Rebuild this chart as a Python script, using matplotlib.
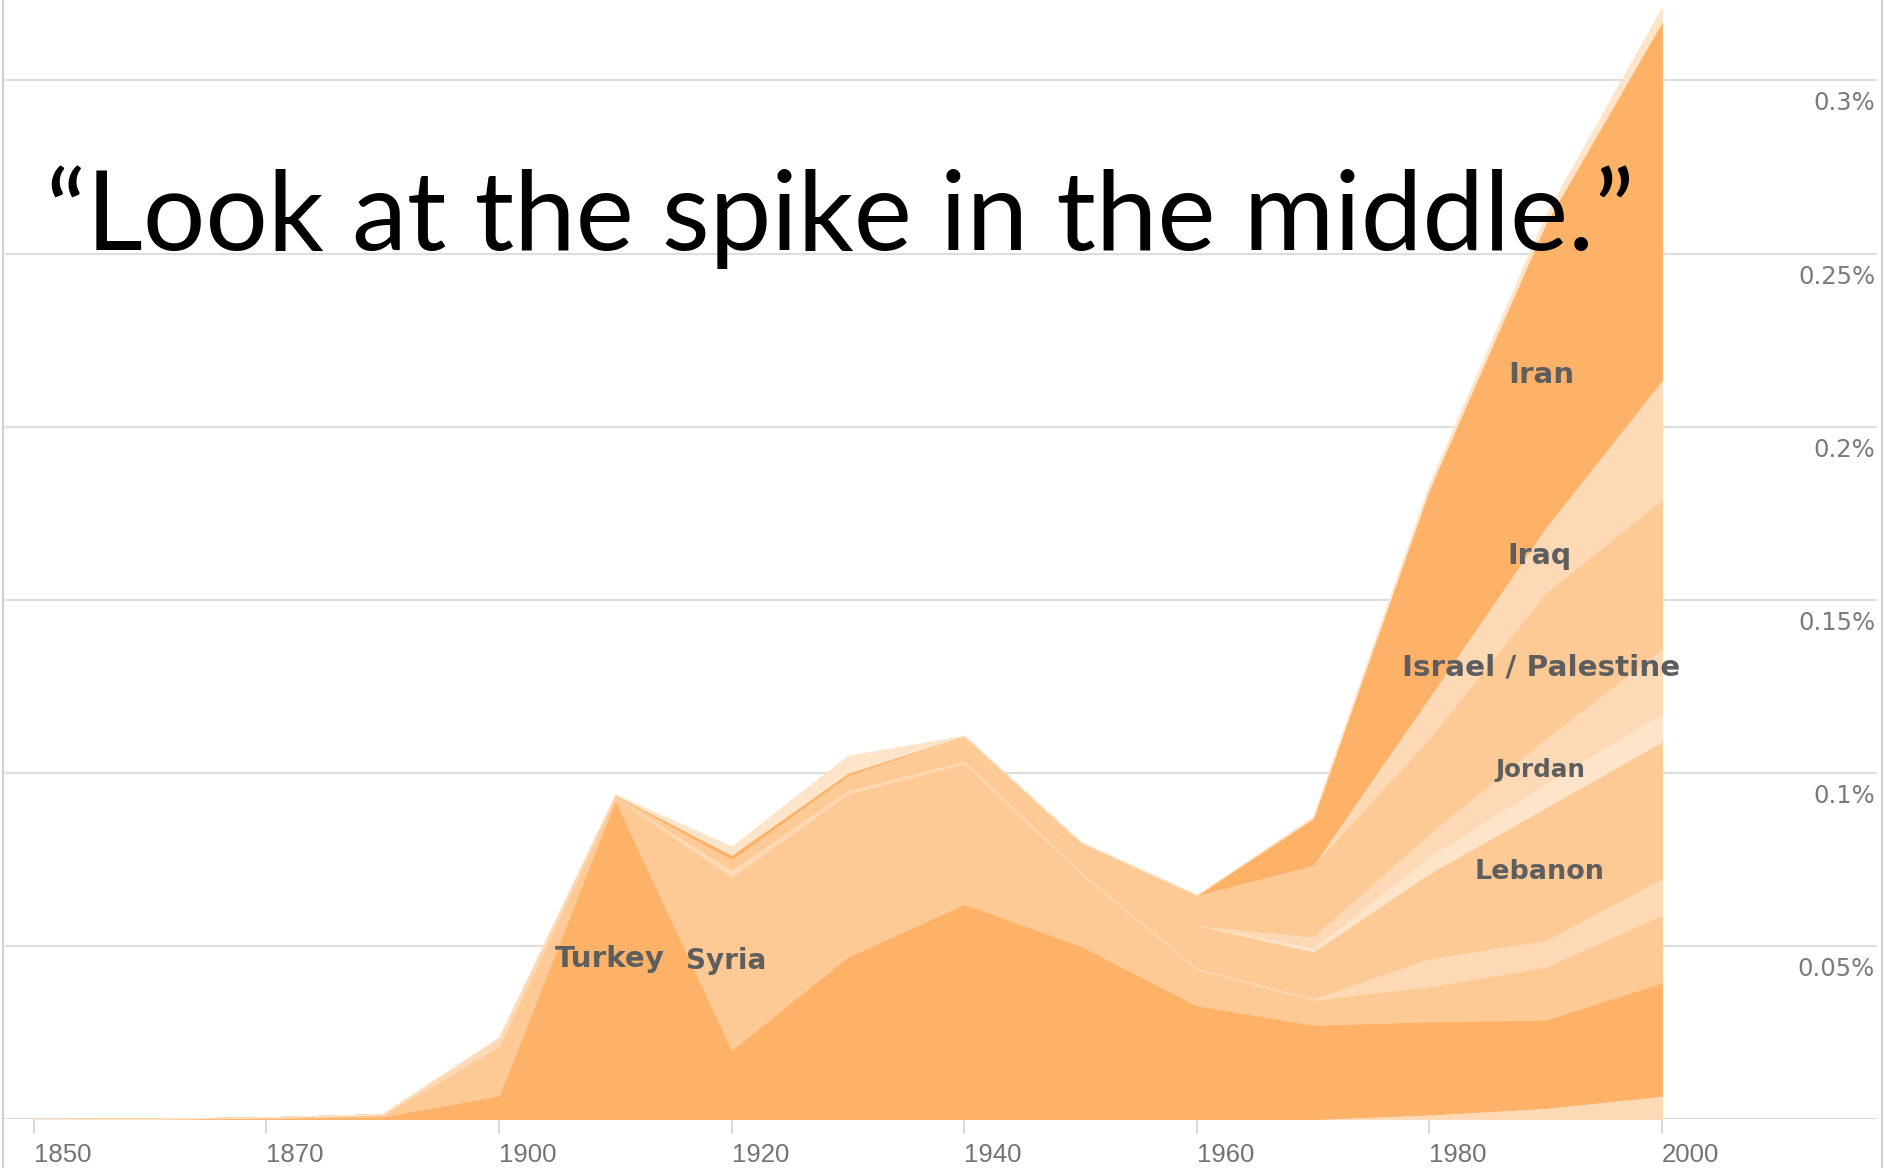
import numpy as np
import matplotlib
matplotlib.use("Agg")
import matplotlib.pyplot as plt
from matplotlib.lines import Line2D
import matplotlib.transforms as mtransforms

# ---------------- data (values in percent) ----------------
years = [1860, 1870, 1880, 1890, 1900, 1910, 1920, 1930, 1940, 1950, 1960, 1970, 1980, 1990, 2000]

other_low = [0, 0, 0, 0, 0, 0, 0, 0, 0, 0, 0, 0, 0.0013, 0.0032, 0.0067]
turkey    = [0, 0.0001, 0.0003, 0.0007, 0.0068, 0.0920, 0.0200, 0.0469, 0.0621, 0.0500, 0.0328, 0.0272, 0.0269, 0.0255, 0.0327]
syria     = [0, 0, 0.0001, 0.0005, 0.0142, 0.0008, 0.0500, 0.0471, 0.0407, 0.0210, 0.0104, 0.0072, 0.0101, 0.0153, 0.0196]
other_mid = [0, 0, 0.0001, 0.0002, 0.0024, 0.0003, 0.0020, 0.0010, 0.0007, 0.0006, 0.0005, 0.0005, 0.0081, 0.0077, 0.0105]
lebanon   = [0, 0, 0, 0, 0, 0.0002, 0.0030, 0.0043, 0.0065, 0.0034, 0.0123, 0.0135, 0.0246, 0.0383, 0.0395]
other_thin = [0, 0, 0, 0, 0, 0, 0, 0, 0, 0, 0, 0.0011, 0.0050, 0.0070, 0.0082]
jordan    = [0, 0, 0, 0, 0, 0, 0, 0, 0, 0, 0, 0.0032, 0.0065, 0.0130, 0.0186]
israel_palestine = [0, 0, 0, 0, 0, 0.0001, 0, 0, 0.0007, 0.0050, 0.0087, 0.0207, 0.0275, 0.0420, 0.0432]
iraq      = [0, 0, 0, 0, 0, 0, 0, 0, 0, 0, 0, 0, 0.0120, 0.0190, 0.0345]
iran      = [0, 0, 0, 0, 0, 0.0002, 0.0013, 0.0007, 0, 0, 0, 0.0135, 0.0600, 0.0877, 0.1035]
other_top = [0, 0, 0, 0, 0, 0.0002, 0.0024, 0.0050, 0, 0, 0, 0.0005, 0.0015, 0.0025, 0.0041]

tick_years = [1860, 1880, 1900, 1920, 1940, 1960, 1980, 2000]
tick_labels = ["1850", "1870", "1900", "1920", "1940", "1960", "1980", "2000"]
y_ticks = [0.05, 0.1, 0.15, 0.2, 0.25, 0.3]
y_labels = ["0.05%", "0.1%", "0.15%", "0.2%", "0.25%", "0.3%"]

label_names = ["Turkey", "Syria", "Iran", "Iraq", "Israel / Palestine", "Jordan", "Lebanon"]
label_x = [1909.5, 1919.5, 1989.6, 1989.5, 1989.6, 1989.5, 1989.5]
label_y = [0.0462, 0.0456, 0.2149, 0.1626, 0.1303, 0.1008, 0.0714]
label_w = [110, 80, 66, 64, 278, 90, 130]   # target widths in px

title = "\u201cLook at the spike in the middle.\u201d"

# ---------------- styling ----------------
DARK = "#fdb268"
MED = "#fdca96"
PALE = "#fddab5"
VPALE = "#fee4c9"

W, H = 1884, 1168
DPI = 100
fig = plt.figure(figsize=(W / DPI, H / DPI), dpi=DPI)
fig.patch.set_facecolor("white")

ax_left, ax_right = 5, 1877
ax_bottom = 1119
ax = fig.add_axes([ax_left / W, (H - ax_bottom) / H, (ax_right - ax_left) / W, ax_bottom / H])
ax.set_facecolor("none")

layers = [other_low, turkey, syria, other_mid, lebanon, other_thin, jordan,
          israel_palestine, iraq, iran, other_top]
colors = [PALE, DARK, MED, PALE, MED, VPALE, PALE, MED, PALE, DARK, VPALE]
polys = ax.stackplot(years, *layers, colors=colors, linewidth=0.6, zorder=2)
for p, c in zip(polys, colors):
    p.set_edgecolor(c)

ax.set_xlim(1857.52, 2018.49)
ax.set_ylim(0, 0.32325)

# gridlines (behind areas)
for v in [0.0] + y_ticks:
    ax.axhline(v, color="#dedede", lw=1.6, zorder=1)

for s in ax.spines.values():
    s.set_visible(False)
ax.set_yticks([])
ax.set_xticks(tick_years)
ax.set_xticklabels(tick_labels)
ax.tick_params(axis="x", length=11, width=1.2, color="#d4d4d4", pad=6,
               labelsize=18.5, labelcolor="#737373")
for lbl in ax.get_xticklabels():
    lbl.set_ha("left")
    lbl.set_fontfamily("Liberation Sans")

# y labels at right, below gridlines
trans = mtransforms.blended_transform_factory(ax.transAxes, ax.transData)
for v, t in zip(y_ticks, y_labels):
    ax.annotate(t, xy=(1.0, v), xycoords=trans, xytext=(-2, -11),
                textcoords="offset pixels", ha="right", va="top",
                fontsize=17.5, color="#7a7a7a", family="DejaVu Sans")

# country labels sized to target widths
fig.canvas.draw()
renderer = fig.canvas.get_renderer()
for name, x, y, w in zip(label_names, label_x, label_y, label_w):
    t = ax.text(x, y, name, ha="center", va="center", fontsize=20,
                fontweight="bold", color="#5e5e5e", family="DejaVu Sans", zorder=5)
    bw = t.get_window_extent(renderer).width
    t.set_fontsize(20 * w / bw)

# title
tt = fig.text(46 / W, 1 - 250 / H, title, ha="left", va="baseline",
              fontsize=75, color="black", family="Lato", fontweight="normal", zorder=10)
bw = tt.get_window_extent(renderer).width
tt.set_fontsize(75 * 1587 / bw)

# frame borders of the screenshot
fig.add_artist(Line2D([2.5 / W, 2.5 / W], [0, 1], color="#d0d0d0", lw=1.5))
fig.add_artist(Line2D([1881.5 / W, 1881.5 / W], [0, 1], color="#d0d0d0", lw=1.5))

fig.savefig("out.png", dpi=DPI, facecolor="white")
